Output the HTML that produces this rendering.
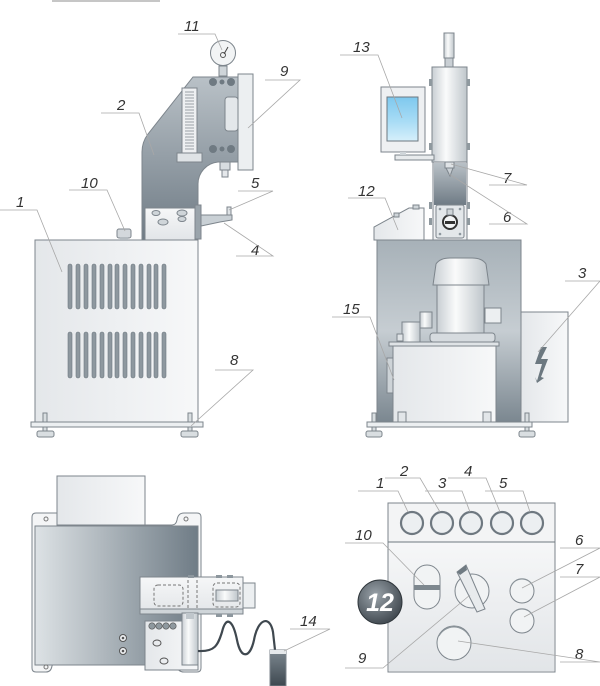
<!DOCTYPE html>
<html><head><meta charset="utf-8"><style>
html,body{margin:0;padding:0;background:#fff;}
svg{display:block;}
text{font-family:"Liberation Sans",sans-serif;font-style:italic;font-size:15px;fill:#333;}
.ld{stroke:#a8a8a8;stroke-width:0.8;fill:none;}
.o{stroke:#7d858c;stroke-width:1;}
</style></head><body>
<svg width="600" height="686" viewBox="0 0 600 686" xmlns="http://www.w3.org/2000/svg">
<defs>
<linearGradient id="lg" x1="0" x2="1"><stop offset="0" stop-color="#e4e7ea"/><stop offset="1" stop-color="#f7f8f9"/></linearGradient>
<linearGradient id="lgv" x1="0" y1="0" x2="0" y2="1"><stop offset="0" stop-color="#f6f7f8"/><stop offset="1" stop-color="#e2e5e8"/></linearGradient>
<linearGradient id="dk" x1="0" y1="0" x2="0" y2="1"><stop offset="0" stop-color="#b9c1c7"/><stop offset="1" stop-color="#6f7b85"/></linearGradient>
<linearGradient id="dkh" x1="0" x2="1"><stop offset="0" stop-color="#dde2e5"/><stop offset="1" stop-color="#6f7c86"/></linearGradient>
<linearGradient id="cab" x1="0" y1="0" x2="0" y2="1"><stop offset="0" stop-color="#a7b1b8"/><stop offset="0.5" stop-color="#c6cdd2"/><stop offset="1" stop-color="#7b8790"/></linearGradient>
<linearGradient id="scr" x1="0" y1="0" x2="0" y2="1"><stop offset="0" stop-color="#7ec8ee"/><stop offset="0.55" stop-color="#a8dcf5"/><stop offset="1" stop-color="#d6effb"/></linearGradient>
<linearGradient id="cyl" x1="0" x2="1"><stop offset="0" stop-color="#c8ced3"/><stop offset="0.4" stop-color="#fafbfb"/><stop offset="1" stop-color="#bfc6cb"/></linearGradient>
<radialGradient id="bdg" cx="0.4" cy="0.35" r="0.7"><stop offset="0" stop-color="#9aa3aa"/><stop offset="1" stop-color="#3d454c"/></radialGradient>
<linearGradient id="ped" x1="0" y1="0" x2="0" y2="1"><stop offset="0" stop-color="#7d8890"/><stop offset="1" stop-color="#3e4850"/></linearGradient>
</defs>

<!-- top dimension -->
<line x1="52" y1="1" x2="160" y2="1" stroke="#666" stroke-width="0.8"/>

<!-- ===== LEFT MACHINE ===== -->
<rect x="35" y="240" width="163" height="183" fill="url(#lg)" class="o"/>
<g fill="#8e989f" stroke="#6f7980" stroke-width="0.6">
<rect x="68" y="264" width="4" height="45" rx="2"/><rect x="76" y="264" width="4" height="45" rx="2"/><rect x="84" y="264" width="4" height="45" rx="2"/><rect x="92" y="264" width="4" height="45" rx="2"/><rect x="100" y="264" width="4" height="45" rx="2"/><rect x="108" y="264" width="4" height="45" rx="2"/><rect x="115" y="264" width="4" height="45" rx="2"/><rect x="123" y="264" width="4" height="45" rx="2"/><rect x="131" y="264" width="4" height="45" rx="2"/><rect x="139" y="264" width="4" height="45" rx="2"/><rect x="147" y="264" width="4" height="45" rx="2"/><rect x="154" y="264" width="4" height="45" rx="2"/><rect x="162" y="264" width="4" height="45" rx="2"/>
<rect x="68" y="332" width="4" height="46" rx="2"/><rect x="76" y="332" width="4" height="46" rx="2"/><rect x="84" y="332" width="4" height="46" rx="2"/><rect x="92" y="332" width="4" height="46" rx="2"/><rect x="100" y="332" width="4" height="46" rx="2"/><rect x="108" y="332" width="4" height="46" rx="2"/><rect x="115" y="332" width="4" height="46" rx="2"/><rect x="123" y="332" width="4" height="46" rx="2"/><rect x="131" y="332" width="4" height="46" rx="2"/><rect x="139" y="332" width="4" height="46" rx="2"/><rect x="147" y="332" width="4" height="46" rx="2"/><rect x="154" y="332" width="4" height="46" rx="2"/><rect x="162" y="332" width="4" height="46" rx="2"/>
</g>
<rect x="31" y="422" width="172" height="5" fill="#eceff1" class="o"/>
<g fill="#d9dee1" class="o"><rect x="37" y="431" width="17" height="6" rx="2"/><rect x="181" y="431" width="17" height="6" rx="2"/><rect x="43" y="413" width="4" height="9"/><rect x="188" y="413" width="4" height="9"/><rect x="43" y="427" width="4" height="4"/><rect x="188" y="427" width="4" height="4"/></g>
<!-- cap 10 -->
<rect x="117" y="229" width="14" height="9" rx="2" fill="#d3d8dc" class="o"/><rect x="120" y="237" width="8" height="3" fill="#b5bcc1"/>
<!-- frame -->
<path d="M142,240 L142,152 Q142,142 148,134 L193,77 L238,77 L238,162 L218,162 A22,22 0 0 0 198,184 L198,240 Z" fill="url(#dk)" class="o"/>
<rect x="182" y="88" width="15" height="65" fill="#eef0f2" class="o"/>
<g stroke="#7d868c" stroke-width="0.7"><path d="M185,92h9M185,95h9M185,98h9M185,101h9M185,104h9M185,107h9M185,110h9M185,113h9M185,116h9M185,119h9M185,122h9M185,125h9M185,128h9M185,131h9M185,134h9M185,137h9M185,140h9M185,143h9M185,146h9M185,149h9"/></g>
<rect x="177" y="153" width="25" height="9" fill="#dfe3e6" class="o"/>
<rect x="225" y="97" width="13" height="34" rx="3" fill="#e3e7ea" class="o"/>
<g fill="#6f7a82"><circle cx="213" cy="82" r="4"/><circle cx="222" cy="82" r="2.5"/><circle cx="231" cy="82" r="4"/><circle cx="213" cy="149" r="4"/><circle cx="222" cy="149" r="2.5"/><circle cx="231" cy="149" r="4"/></g>
<rect x="238" y="74" width="15" height="96" fill="#eceff1" class="o"/>
<rect x="220" y="162" width="10" height="8" fill="#d7dce0" class="o"/><rect x="222" y="170" width="6" height="7" fill="#e5e8eb" class="o"/>
<rect x="219" y="66" width="8" height="10" fill="#cfd5d9" class="o"/>
<circle cx="223" cy="53" r="12.5" fill="#f2f4f5" class="o"/><circle cx="223" cy="55" r="2.5" fill="none" stroke="#555"/><line x1="224" y1="54" x2="228" y2="47" stroke="#444"/>
<rect x="145" y="208" width="50" height="32" fill="url(#lgv)" class="o"/>
<g fill="#cfd5d9" class="o"><ellipse cx="156" cy="213" rx="4" ry="2.5"/><ellipse cx="163" cy="222" rx="5" ry="3"/><ellipse cx="182" cy="213" rx="5" ry="3"/><ellipse cx="182" cy="219" rx="4" ry="2.5"/></g>
<rect x="195" y="205" width="6" height="34" fill="#9aa4ab" class="o"/>
<path d="M201,215 L232,215 L232,220 L220,222 L201,226 Z" fill="#c9d0d5" class="o"/>
<rect x="227" y="207" width="4" height="8" fill="#dfe3e6" class="o"/>

<!-- left labels -->
<text x="184" y="31">11</text><path class="ld" d="M178,34 L215,34 L222,50"/>
<text x="280" y="76">9</text><path class="ld" d="M265,80 L300,80 L248,128"/>
<text x="117" y="110">2</text><path class="ld" d="M101,113 L139,113 L154,155"/>
<text x="81" y="188">10</text><path class="ld" d="M69,190 L107,190 L125,231"/>
<text x="16" y="207">1</text><path class="ld" d="M0,210 L37,210 L62,272"/>
<text x="251" y="188">5</text><path class="ld" d="M238,191 L273,191 L229,210"/>
<text x="251" y="255">4</text><path class="ld" d="M236,256 L273,256 L224,223"/>
<text x="230" y="365">8</text><path class="ld" d="M215,370 L253,370 L191,426"/>

<!-- ===== RIGHT MACHINE ===== -->
<rect x="377" y="240" width="144" height="182" fill="url(#cab)" class="o"/>
<rect x="521" y="312" width="47" height="110" fill="url(#lg)" class="o"/>
<path d="M541,347 L535,364 L542,364 L537,381 L535,377 L537,383 L544,378 L541,377 L548,359 L541,359 L547,347 Z" fill="#6c7880"/>
<rect x="389" y="342" width="110" height="4" fill="#dfe3e6" class="o"/>
<rect x="393" y="346" width="103" height="76" fill="url(#lg)" class="o"/>
<rect x="387" y="358" width="6" height="35" fill="#cdd3d7" class="o"/>
<rect x="398" y="412" width="8" height="10" fill="#e2e6e9" class="o"/><rect x="483" y="412" width="8" height="10" fill="#e2e6e9" class="o"/>
<rect x="430" y="333" width="65" height="9" rx="3" fill="#d6dbdf" class="o"/>
<rect x="437" y="285" width="47" height="48" fill="url(#cyl)" class="o"/>
<path d="M433,285 L436,264 Q440,258 450,258 L472,258 Q482,258 486,264 L489,285 Z" fill="url(#cyl)" class="o"/>
<rect x="485" y="308" width="16" height="15" fill="#eceff1" class="o"/>
<rect x="402" y="322" width="18" height="20" fill="url(#cyl)" class="o"/>
<rect x="420" y="312" width="12" height="16" fill="url(#cyl)" class="o"/>
<rect x="397" y="334" width="6" height="7" fill="#dfe3e6" class="o"/>
<!-- 12 box -->
<path d="M374,227 L374,240 L424,240 L424,208 L409,208 Z" fill="url(#lg)" class="o"/>
<rect x="394" y="213" width="5" height="4" fill="#cfd5d9" class="o"/><rect x="413" y="205" width="6" height="4" fill="#cfd5d9" class="o"/>
<!-- column -->
<rect x="444" y="33" width="10" height="25" fill="url(#cyl)" class="o"/>
<rect x="445" y="58" width="8" height="9" fill="#c9cfd4" class="o"/>
<rect x="432" y="67" width="35" height="95" fill="url(#cyl)" class="o"/>
<rect x="433" y="162" width="34" height="78" fill="#eef0f2" class="o"/>
<rect x="434" y="163" width="32" height="42" fill="url(#dk)"/>
<rect x="445" y="162" width="9" height="6" fill="#dfe3e6" class="o"/><path d="M446,168 L453,168 L450,176 Z" fill="#c8ced3" class="o"/>
<rect x="436" y="205" width="28" height="33" rx="2" fill="#e3e7ea" class="o"/>
<circle cx="450" cy="222" r="7" fill="#f3f5f6" stroke="#333" stroke-width="2"/><rect x="445" y="221" width="10" height="3" fill="#333"/><rect x="447" y="209" width="6" height="6" fill="#cfd5d9" class="o"/>
<g fill="#8d979e"><circle cx="440" cy="209" r="1.3"/><circle cx="460" cy="209" r="1.3"/><circle cx="440" cy="234" r="1.3"/><circle cx="460" cy="234" r="1.3"/></g>
<g fill="#8f999f"><rect x="429" y="79" width="3" height="7"/><rect x="467" y="79" width="3" height="7"/><rect x="429" y="143" width="3" height="7"/><rect x="467" y="143" width="3" height="7"/><rect x="429" y="202" width="3" height="7"/><rect x="467" y="202" width="3" height="7"/><rect x="429" y="218" width="3" height="7"/><rect x="467" y="218" width="3" height="7"/></g>
<!-- monitor -->
<rect x="395" y="155" width="39" height="5" fill="#e8ebed" class="o"/>
<rect x="381" y="87" width="44" height="65" fill="#eef0f2" class="o"/>
<rect x="387" y="97" width="31" height="44" fill="url(#scr)" stroke="#6d7880"/>
<rect x="400" y="152" width="6" height="3" fill="#cfd5d9"/>
<!-- base -->
<rect x="367" y="422" width="165" height="5" fill="#eceff1" class="o"/>
<g fill="#d9dee1" class="o"><rect x="366" y="431" width="16" height="6" rx="2"/><rect x="519" y="431" width="16" height="6" rx="2"/><rect x="372" y="413" width="4" height="9"/><rect x="525" y="413" width="4" height="9"/><rect x="372" y="427" width="4" height="4"/><rect x="525" y="427" width="4" height="4"/></g>

<text x="353" y="52">13</text><path class="ld" d="M340,55 L378,55 L402,118"/>
<text x="503" y="183">7</text><path class="ld" d="M489,185 L527,185 L451,164"/>
<text x="503" y="222">6</text><path class="ld" d="M489,224 L527,224 L449,174"/>
<text x="358" y="196">12</text><path class="ld" d="M348,198 L385,198 L398,230"/>
<text x="578" y="278">3</text><path class="ld" d="M565,281 L600,281 L538,352"/>
<text x="343" y="314">15</text><path class="ld" d="M332,317 L370,317 L394,380"/>

<!-- ===== BOTTOM LEFT ===== -->
<rect x="57" y="476" width="88" height="49" fill="url(#lg)" class="o"/>
<path d="M32,517 Q32,513 36,513 L57,513 L57,525 L172,525 Q176,525 177,520 Q178,513 184,513 L197,513 Q201,513 201,517 L201,668 Q201,672 197,672 L184,672 Q178,672 177,666 Q176,662 172,662 L57,662 Q53,662 52,666 Q51,672 46,672 L36,672 Q32,672 32,668 Z" fill="#f4f5f6" class="o"/>
<rect x="35" y="526" width="163" height="139" fill="url(#dkh)" class="o"/>
<g fill="none" stroke="#777"><circle cx="46" cy="519" r="2"/><circle cx="186" cy="519" r="2"/><circle cx="46" cy="667" r="2"/><circle cx="186" cy="667" r="2"/></g>
<g fill="#eef0f2" stroke="#555"><circle cx="123" cy="638" r="3.5"/><circle cx="123" cy="651" r="3.5"/></g>
<g fill="#555"><circle cx="123" cy="638" r="1.3"/><circle cx="123" cy="651" r="1.3"/></g>
<rect x="243" y="583" width="12" height="25" fill="#eceff1" class="o"/>
<rect x="140" y="577" width="103" height="37" fill="url(#lgv)" class="o"/>
<rect x="140" y="609" width="103" height="5" fill="#cfd5d9" class="o"/>
<g fill="none" stroke="#777" stroke-dasharray="3,2"><rect x="154" y="585" width="29" height="21" rx="4"/><rect x="213" y="583" width="27" height="24" rx="4"/><line x1="188" y1="580" x2="188" y2="610"/><line x1="197" y1="580" x2="197" y2="610"/></g>
<rect x="216" y="590" width="22" height="11" fill="url(#cyl)" class="o"/>
<g fill="#8d979e"><rect x="188" y="575" width="6" height="3"/><rect x="216" y="575" width="6" height="3"/><rect x="227" y="575" width="6" height="3"/><rect x="216" y="614" width="6" height="3"/><rect x="227" y="614" width="6" height="3"/></g>
<rect x="145" y="621" width="53" height="49" fill="url(#lg)" class="o"/>
<g fill="#8f999f" stroke="#555" stroke-width="0.6"><circle cx="152" cy="626" r="3.2"/><circle cx="159" cy="626" r="3.2"/><circle cx="166" cy="626" r="3.2"/><circle cx="173" cy="626" r="3.2"/></g>
<g fill="none" stroke="#555"><ellipse cx="157" cy="643" rx="4" ry="3"/><ellipse cx="164" cy="661" rx="4" ry="3"/></g>
<rect x="182" y="613" width="16" height="52" fill="url(#cyl)" class="o"/>
<rect x="186" y="613" width="8" height="6" fill="#bfc6cb"/>
<path d="M198,651 C215,652 218,645 222,632 C226,615 233,620 237,640 C241,660 250,658 254,640 C258,618 270,615 273,632 L275,650" fill="none" stroke="#3f484f" stroke-width="2.2"/>
<rect x="270" y="650" width="16" height="36" fill="url(#ped)" class="o"/>
<rect x="270" y="650" width="16" height="4" fill="#e6e9eb"/>
<text x="300" y="626">14</text><path class="ld" d="M290,629 L330,629 L284,651"/>

<!-- ===== BOTTOM RIGHT PANEL ===== -->
<rect x="388" y="503" width="167" height="169" fill="#f3f4f5" class="o"/>
<rect x="389" y="542" width="165" height="129" fill="url(#lgv)"/>
<line x1="388" y1="542" x2="555" y2="542" stroke="#6f7980"/>
<g fill="#eceff1" stroke="#6e7880" stroke-width="2.2"><circle cx="412" cy="523" r="11"/><circle cx="442" cy="523" r="11"/><circle cx="471" cy="523" r="11"/><circle cx="502" cy="523" r="11"/><circle cx="532" cy="523" r="11"/></g>
<circle cx="380" cy="602" r="22" fill="url(#bdg)" stroke="#2f363b"/>
<text x="380" y="611" text-anchor="middle" style="font-size:25px;font-weight:bold;fill:#fff;">12</text>
<rect x="414" y="565" width="26" height="44" rx="13" fill="#f1f3f4" class="o"/>
<rect x="414" y="585" width="26" height="5" fill="#7d878e"/>
<circle cx="472" cy="591" r="17" fill="#f1f3f4" class="o"/>
<path d="M457,572 L466,565 L485,609 L477,612 Z" fill="#e8ebed" class="o"/>
<path d="M457,572 L466,565 L467,570 L460,575 Z" fill="#6f7a82"/>
<g fill="#f1f3f4" class="o"><circle cx="522" cy="591" r="12"/><circle cx="522" cy="621" r="12"/><circle cx="454" cy="643" r="17"/></g>
<g fill="none" stroke="#8d969c"><path d="M511,586 A12,12 0 0 1 533,586"/><path d="M511,616 A12,12 0 0 1 533,616"/><path d="M439,636 A17,17 0 0 1 469,636"/></g>

<text x="376" y="488">1</text><path class="ld" d="M358,491 L398,491 L408,512"/>
<text x="400" y="476">2</text><path class="ld" d="M385,478 L420,478 L440,512"/>
<text x="438" y="488">3</text><path class="ld" d="M425,491 L462,491 L470,512"/>
<text x="464" y="476">4</text><path class="ld" d="M448,478 L486,478 L500,512"/>
<text x="499" y="488">5</text><path class="ld" d="M485,491 L523,491 L530,512"/>
<text x="355" y="540">10</text><path class="ld" d="M345,543 L383,543 L424,585"/>
<text x="575" y="545">6</text><path class="ld" d="M560,548 L600,548 L522,588"/>
<text x="575" y="574">7</text><path class="ld" d="M560,577 L600,577 L524,617"/>
<text x="575" y="659">8</text><path class="ld" d="M560,662 L600,662 L458,641"/>
<text x="358" y="663">9</text><path class="ld" d="M345,668 L383,668 L470,595"/>
</svg>
</body></html>
